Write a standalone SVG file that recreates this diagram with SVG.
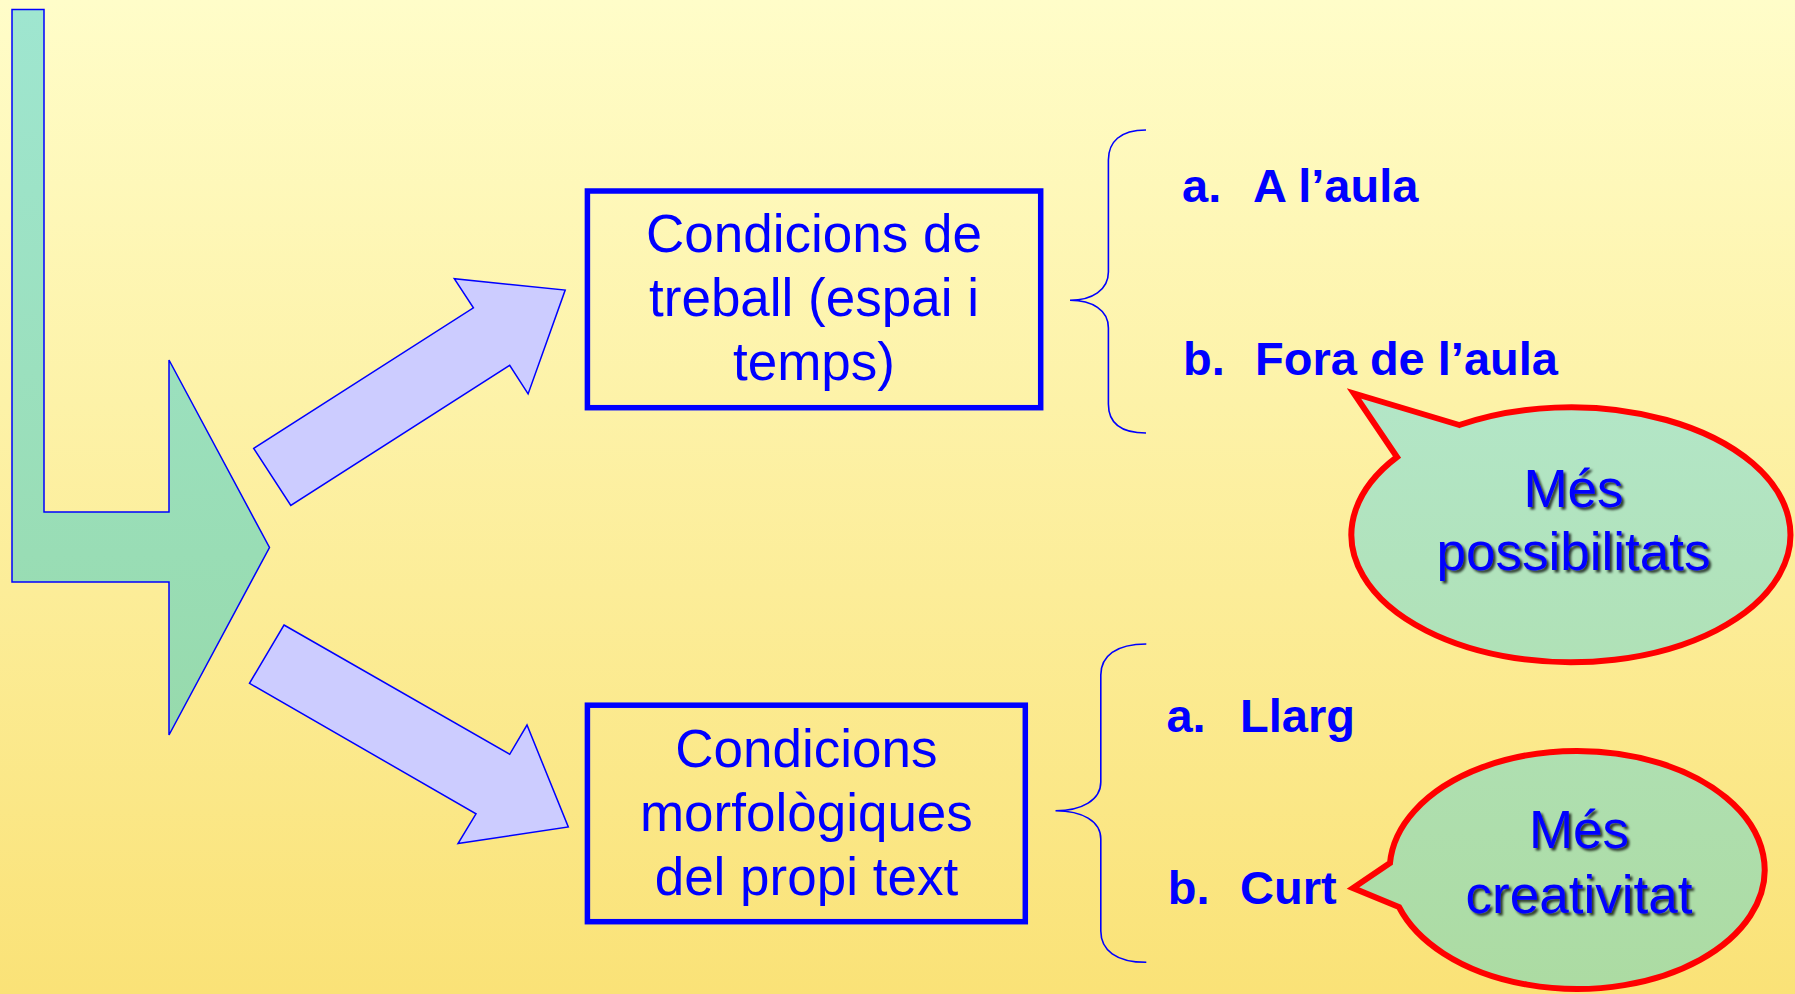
<svg xmlns="http://www.w3.org/2000/svg" width="1795" height="994" viewBox="0 0 1795 994">
<defs>
<linearGradient id="bg" x1="0" y1="0" x2="0" y2="1">
<stop offset="0" stop-color="#FFFDC9"/>
<stop offset="1" stop-color="#FAE277"/>
</linearGradient>
<linearGradient id="lg" gradientUnits="userSpaceOnUse" x1="0" y1="9" x2="0" y2="735">
<stop offset="0" stop-color="#9FE6D0"/>
<stop offset="1" stop-color="#97DAAC"/>
</linearGradient>
<linearGradient id="bub" gradientUnits="userSpaceOnUse" x1="0" y1="400" x2="0" y2="994">
<stop offset="0" stop-color="#B3E6C7"/>
<stop offset="1" stop-color="#ACDBA2"/>
</linearGradient>
<filter id="sh" x="-10%" y="-20%" width="120%" height="140%">
<feDropShadow dx="2.5" dy="2.5" stdDeviation="0.8" flood-color="#000" flood-opacity="0.75"/>
</filter>
<style>
.arrow{fill:#CCCCFF;stroke:#0000FF;stroke-width:1.5;stroke-linejoin:miter}
.box{fill:none;stroke:#0000FF;stroke-width:5.5}
.brace{fill:none;stroke:#0000FF;stroke-width:1.6}
.bubble{fill:url(#bub);stroke:#FF0000;stroke-width:6;stroke-linejoin:miter;stroke-miterlimit:10}
.t{font-family:"Liberation Sans",Arial,sans-serif;fill:#0000FF;font-size:53px;text-anchor:middle}
.li{font-family:"Liberation Sans",Arial,sans-serif;fill:#0000FF;font-size:47px;font-weight:bold}
.bt{font-family:"Liberation Sans",Arial,sans-serif;fill:#0000FF;font-size:53px;text-anchor:middle;filter:url(#sh)}
</style>
</defs>
<rect x="0" y="0" width="1795" height="994" fill="url(#bg)"/>

<g id="source-arrow">
<polygon points="12,9.5 44,9.5 44,512 169,512 169,360 269.5,547.5 169,735 169,582 12,582" fill="url(#lg)" stroke="#0000FF" stroke-width="1.5"/>
</g>

<g id="connectors">
<polygon class="arrow" points="253.7,448.4 473.4,307.8 454.3,278.7 565.2,290.1 528.1,393.9 509.7,365.4 290.8,505.4"/>
<polygon class="arrow" points="284,625 509.7,754.3 527,725 568.3,827 458,843.6 476,813.8 249.5,683.3"/>
</g>

<g id="box-treball">
<rect class="box" x="587.4" y="191" width="453.3" height="216.7"/>
<text class="t" x="814" y="251.7">Condicions de</text>
<text class="t" x="814" y="315.7">treball (espai i</text>
<text class="t" x="814" y="380">temps)</text>
</g>

<g id="brace-top">
<path class="brace" d="M1146,130 C1120,130 1108.4,142 1108.4,160 L1108.4,272 C1108.4,290 1092,300.3 1070,300.3 C1092,300.3 1108.4,310 1108.4,328 L1108.4,404 C1108.4,422 1120,433 1146,433"/>
</g>

<g id="list-top">
<text class="li" x="1182" y="201.7">a.</text>
<text class="li" x="1253" y="201.7">A l’aula</text>
<text class="li" x="1183" y="375">b.</text>
<text class="li" x="1255" y="375">Fora de l’aula</text>
</g>

<g id="bubble-possibilitats">
<path class="bubble" d="M1459.3,425 L1354,393.5 L1397,457 A219.5,127.5 0 1 0 1459.3,425 Z"/>
<text class="bt" x="1573.5" y="506.7">Més</text>
<text class="bt" x="1573.5" y="570">possibilitats</text>
</g>

<g id="box-morfologiques">
<rect class="box" x="587.4" y="705.2" width="437.9" height="216.5"/>
<text class="t" x="806.4" y="766.7">Condicions</text>
<text class="t" x="806.4" y="830.7">morfològiques</text>
<text class="t" x="806.4" y="895">del propi text</text>
</g>

<g id="brace-bottom">
<path class="brace" d="M1146.3,644 C1116,644 1100.8,656 1100.8,675 L1100.8,782 C1100.8,800 1082,810.7 1055.5,810.7 C1082,810.7 1100.8,821 1100.8,839 L1100.8,931 C1100.8,950 1116,962.3 1146.3,962.3"/>
</g>

<g id="list-bottom">
<text class="li" x="1166.4" y="731.7">a.</text>
<text class="li" x="1240" y="731.7">Llarg</text>
<text class="li" x="1167.8" y="904">b.</text>
<text class="li" x="1240" y="904">Curt</text>
</g>

<g id="bubble-creativitat">
<path class="bubble" d="M1390,863 L1353,888 L1399,907 A187.5,119 0 1 0 1390,863 Z"/>
<text class="bt" x="1579" y="848.3">Més</text>
<text class="bt" x="1579" y="912.7">creativitat</text>
</g>
</svg>
